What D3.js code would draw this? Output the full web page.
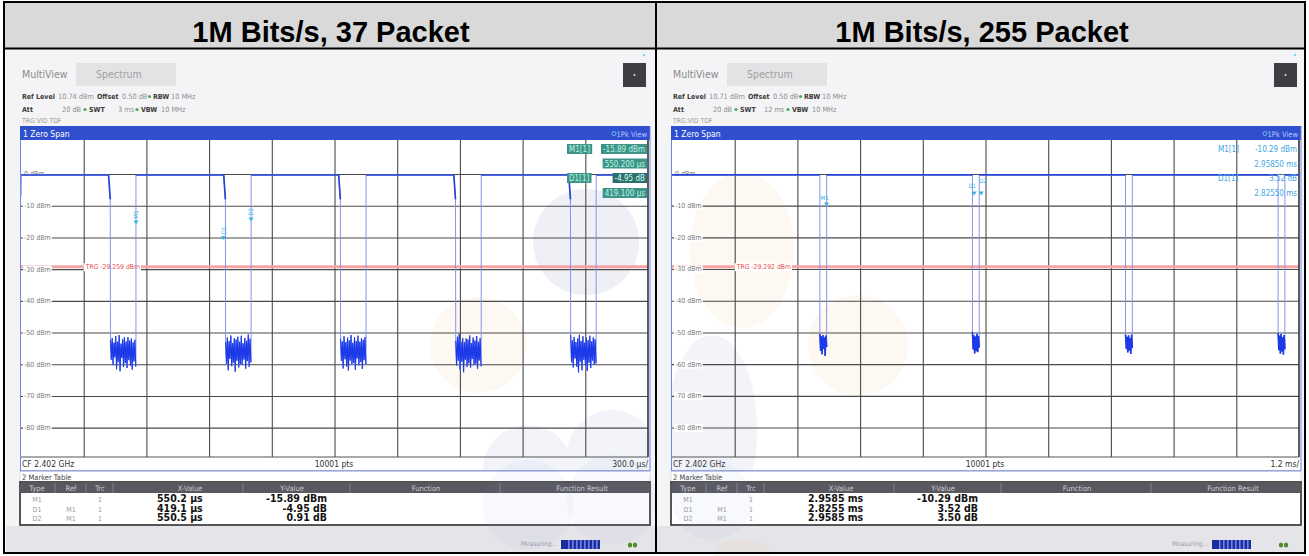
<!DOCTYPE html>
<html><head><meta charset="utf-8">
<script src="https://cdn.jsdelivr.net/npm/d3@7"></script>
<style>
body{margin:0;background:#fff;}
svg{display:block;}
</style></head><body>
<svg id="c" width="1309" height="556"></svg>
<script>
// ---------------- DATA ----------------
const panelTitles = ["1M Bits/s, 37 Packet", "1M Bits/s, 255 Packet"];
const refLevels = [10.74, 10.71];
const refLevelText = ["10.74 dBm", "10.71 dBm"];
const swtText = ["3 ms", "12 ms"];
const sweepTimes = [3000, 12];            // left in µs, right in ms
const divLabels = ["300.0 µs/", "1.2 ms/"];
const trgLevels = [-29.259, -29.292];
const trgText = ["TRG  -29.259 dBm", "TRG  -29.292 dBm"];
const yTicks = [0, -10, -20, -30, -40, -50, -60, -70, -80];
const yTickLabels = ["0 dBm", "-10 dBm", "-20 dBm", "-30 dBm", "-40 dBm", "-50 dBm", "-60 dBm", "-70 dBm", "-80 dBm"];

// trace (left, µs)
const highLevels = [-0.3, -0.3];
const startLevelL = -7.2;
const shoulderL = -8;
const fallL = [419, 970, 1520, 2071, 2621];
const riseL = [550, 1101, 1651, 2202, 2752];
const noiseL = [
  [-52.4,-58.6,-51.7,-60.3,-53.2,-57.8,-51.1,-61.6,-52.9,-59.3,-50.8,-62.2,-53.5,-58.0,-52.1,-60.9,-51.5,-59.6,-52.8,-61.2,-51.4,-58.7,-52.5,-60.5,-51.9,-61.7,-53.1,-59.1,-52.3,-60.7],
  [-53.0,-59.8,-51.6,-61.9,-52.7,-58.3,-50.9,-60.6,-53.3,-59.5,-51.8,-62.4,-52.2,-58.9,-51.3,-61.0,-52.9,-59.9,-51.0,-60.2,-53.4,-58.5,-51.7,-61.4,-52.6,-59.0,-50.6,-60.8,-52.0,-59.4],
  [-51.9,-59.0,-52.8,-61.3,-51.2,-58.4,-53.0,-60.7,-51.6,-62.0,-52.4,-58.8,-50.8,-60.1,-53.2,-59.6,-51.5,-61.8,-52.7,-58.2,-51.0,-60.4,-52.9,-59.3,-51.8,-61.5,-52.3,-58.7,-51.4,-60.0],
  [-52.6,-60.4,-51.3,-58.9,-50.5,-61.7,-52.8,-59.2,-51.7,-62.5,-53.1,-58.6,-51.9,-60.9,-52.2,-59.7,-50.9,-61.1,-53.3,-58.3,-51.6,-60.3,-52.5,-59.8,-51.1,-61.4,-52.9,-58.8,-51.8,-60.6],
  [-50.8,-59.4,-52.5,-61.0,-51.4,-58.2,-53.0,-60.8,-51.9,-62.6,-50.7,-59.1,-52.7,-61.9,-51.2,-58.6,-53.2,-60.5,-51.6,-62.1,-52.4,-59.5,-51.0,-61.2,-52.8,-58.9,-51.5,-60.2,-52.1,-59.7]
];
// trace (right, ms)
const fallR = [2.83, 5.75, 8.68, 11.60];
const riseR = [2.96, 5.88, 8.81, 11.73];
const noiseR = [
  [-50.5,-55.8,-51.2,-56.9,-50.8,-55.2,-51.6,-57.4,-51.0,-54.6],
  [-49.8,-55.4,-50.9,-56.6,-51.3,-55.9,-50.4,-56.2,-51.1,-54.8],
  [-50.6,-55.1,-51.4,-56.3,-50.9,-55.7,-51.8,-56.8,-50.7,-54.9],
  [-50.2,-55.6,-51.0,-56.7,-50.5,-56.0,-51.5,-57.0,-50.8,-55.3]
];

// markers
const markerNames = ["M1", "D1", "D2"];
const markerRefs = ["", "M1", "M1"];
const markerTrc = ["1", "1", "1"];
const markerXL = [550.2, 419.1, 550.5];     // M1 absolute, D relative to M1 (µs)
const markerYL = [-15.89, -4.95, 0.91];
const markerXR = [2.9585, 2.8255, 2.9585];  // ms
const markerYR = [-10.29, 3.52, 3.50];
const xValText = [["550.2 µs", "419.1 µs", "550.5 µs"], ["2.9585 ms", "2.8255 ms", "2.9585 ms"]];
const yValText = [["-15.89 dBm", "-4.95 dB", "0.91 dB"], ["-10.29 dBm", "3.52 dB", "3.50 dB"]];
const infoLabels = ["M1[1]", "", "D1[1]", ""];
const infoValues = [["-15.89 dBm", "550.200 µs", "-4.95 dB", "419.100 µs"], ["-10.29 dBm", "2.95850 ms", "3.52 dB", "2.82550 ms"]];
const tableHeaders = ["Type", "Ref", "Trc", "X-Value", "Y-Value", "Function", "Function Result"];

// ---------------- DRAWING ----------------
const svg = d3.select("#c");
const UI = '"DejaVu Sans Condensed","DejaVu Sans",sans-serif';
const AR = '"Liberation Sans",Arial,sans-serif';
const panelDx = [0, 651];
const P = {x0: 21, x1: 648, y0: 140, y1: 457};

function label(g, x, y, s, size, fill, anchor, weight, family) {
  return g.append("text").attr("x", x).attr("y", y).text(s)
    .attr("font-size", size).attr("fill", fill)
    .attr("text-anchor", anchor || "start")
    .attr("font-weight", weight || "normal")
    .attr("font-family", family || UI);
}
function bgLabel(g, x, y, s, size, fill, bg) {
  const t = label(g, x, y, s, size, fill);
  const b = t.node().getBBox();
  g.insert("rect", () => t.node()).attr("x", b.x - 1).attr("y", b.y).attr("width", b.width + 2)
    .attr("height", b.height).attr("fill", bg || "#fff");
  return t;
}

// header row
svg.append("rect").attr("x", 4).attr("y", 2).attr("width", 1301).attr("height", 46).attr("fill", "#d9d9d9");
[331, 982].forEach((cx, i) => label(svg, cx, 41.5, panelTitles[i], 29, "#000", "middle", "bold", AR));

function drawPanel(i) {
  const g = svg.append("g").attr("transform", `translate(${panelDx[i]},0)`);
  const sweep = sweepTimes[i];
  const x = d3.scaleLinear().domain([0, sweep]).range([P.x0, P.x1]);
  const y = d3.scaleLinear().domain([refLevels[i] - 100, refLevels[i]]).range([P.y1, P.y0]);
  const high = highLevels[i];

  // screenshot background
  g.append("rect").attr("x", 6).attr("y", 49).attr("width", 649).attr("height", 504).attr("fill", "#f4f4f6");
  // tabs
  label(g, 22, 78, "MultiView", 10.5, "#8a8a8a");
  g.append("circle").attr("cx", 81).attr("cy", 71).attr("r", 1.6).attr("fill", "#35b6e6");
  g.append("rect").attr("x", 76).attr("y", 63).attr("width", 100).attr("height", 23).attr("fill", "#e3e3e6");
  label(g, 96, 78, "Spectrum", 10.5, "#a0a0a0");
  g.append("rect").attr("x", 623).attr("y", 63).attr("width", 23).attr("height", 24).attr("fill", "#3e3e42");
  g.append("circle").attr("cx", 634.5).attr("cy", 75).attr("r", 1).attr("fill", "#ddd");
  g.append("circle").attr("cx", 644).attr("cy", 55).attr("r", 1.2).attr("fill", "#7fd3f0");

  // parameter lines
  const dark = "#3a3a3a", light = "#8c8c8c", green = "#3fae5a";
  label(g, 22, 99, "Ref Level", 7, dark, "start", "bold");
  label(g, 58, 99, refLevelText[i], 7.3, light);
  label(g, 97, 99, "Offset", 7, dark, "start", "bold");
  label(g, 122, 99, "0.50 dB", 7.3, light);
  g.append("circle").attr("cx", 149.5).attr("cy", 96.5).attr("r", 1.6).attr("fill", green);
  label(g, 153, 99, "RBW", 7, dark, "start", "bold");
  label(g, 171, 99, "10 MHz", 7.3, light);
  label(g, 22, 112, "Att", 7, dark, "start", "bold");
  label(g, 62, 112, "20 dB", 7.3, light);
  g.append("circle").attr("cx", 85).attr("cy", 109.5).attr("r", 1.6).attr("fill", green);
  label(g, 89, 112, "SWT", 7, dark, "start", "bold");
  label(g, i === 0 ? 118 : 113, 112, swtText[i], 7.3, light);
  g.append("circle").attr("cx", 137).attr("cy", 109.5).attr("r", 1.6).attr("fill", green);
  label(g, 141, 112, "VBW", 7, dark, "start", "bold");
  label(g, 161, 112, "10 MHz", 7.3, light);
  label(g, 22, 122.5, "TRG:VID TDF", 6.8, "#9a9a9a");

  // window frame + blue title bar
  g.append("rect").attr("x", 20).attr("y", 126).attr("width", 630).attr("height", 345).attr("fill", "#fff");
  g.append("rect").attr("x", 20).attr("y", 126).attr("width", 630).attr("height", 14).attr("fill", "#2f4fce");
  label(g, 23, 136.5, "1 Zero Span", 8.5, "#fff");
  label(g, 647, 136.5, "1Pk View", 7.5, "#b9c9ff", "end");
  g.append("circle").attr("cx", 614).attr("cy", 133.5).attr("r", 2).attr("fill", "none").attr("stroke", "#7fd0f5").attr("stroke-width", 0.8);

  // watermark (behind grid)
  const wm = g.append("g");
  if (i === 0) {
    wm.append("circle").attr("cx", 586).attr("cy", 242).attr("r", 53).attr("fill", "#eef0f6");
    wm.append("circle").attr("cx", 478).attr("cy", 345).attr("r", 48).attr("fill", "#fdf8f1");
    wm.append("circle").attr("cx", 528).attr("cy", 470).attr("r", 45).attr("fill", "#f2f4f9");
    wm.append("circle").attr("cx", 612).attr("cy", 455).attr("r", 45).attr("fill", "#f2f4f9");
  } else {
    wm.append("ellipse").attr("cx", 742 - 651).attr("cy", 250).attr("rx", 52).attr("ry", 78).attr("fill", "#fdf8f1");
    wm.append("circle").attr("cx", 858 - 651).attr("cy", 345).attr("r", 50).attr("fill", "#fdf8f1");
    wm.append("ellipse").attr("cx", 712 - 651).attr("cy", 430).attr("rx", 45).attr("ry", 95).attr("fill", "#f3f4f9");
  }

  // grid via axes
  const gx = g.append("g").attr("transform", `translate(0,${P.y1})`)
    .call(d3.axisBottom(x).tickValues(d3.range(1, 10).map(k => k * sweep / 10)).tickSize(-(P.y1 - P.y0)).tickFormat(""));
  const gy = g.append("g").attr("transform", `translate(${P.x0},0)`)
    .call(d3.axisLeft(y).tickValues(yTicks).tickSize(-(P.x1 - P.x0)).tickFormat(""));
  [gx, gy].forEach(a => { a.select(".domain").remove(); a.selectAll("line").attr("stroke", "#4a4a4a").attr("stroke-width", 1.1); });

  // trigger line
  g.append("line").attr("x1", P.x0).attr("x2", P.x1).attr("y1", y(trgLevels[i])).attr("y2", y(trgLevels[i]))
    .attr("stroke", "#f3a4a4").attr("stroke-width", 3);
  bgLabel(g, x(sweep / 10) + 2, y(trgLevels[i]) + 2.4, trgText[i], 6.8, "#e2504f");

  // y labels
  yTicks.forEach((v, k) => bgLabel(g, 24, y(v) + 2.4, yTickLabels[k], 7, "#7a7a7a"));

  // plot borders
  g.append("line").attr("x1", P.x0 - 0.5).attr("x2", P.x0 - 0.5).attr("y1", P.y0).attr("y2", 471).attr("stroke", "#6f86e0");
  g.append("line").attr("x1", P.x1).attr("x2", P.x1).attr("y1", P.y0).attr("y2", P.y1).attr("stroke", "#333").attr("stroke-width", 1.6);
  g.append("line").attr("x1", P.x0).attr("x2", P.x1).attr("y1", P.y1).attr("y2", P.y1).attr("stroke", "#555").attr("stroke-width", 1);
  g.append("line").attr("x1", 650).attr("x2", 650).attr("y1", 126).attr("y2", 471).attr("stroke", "#6f86e0");

  // trace
  const fall = i === 0 ? fallL : fallR, rise = i === 0 ? riseL : riseR, noise = i === 0 ? noiseL : noiseR;
  const dt = i === 0 ? 8 : 0;
  const pts = [];
  const highSegs = [];
  const noiseSegs = [];
  if (i === 0) { pts.push([0, startLevelL], [2, high]); } else { pts.push([0, high]); }
  let segStart = i === 0 ? 2 : 0;
  fall.forEach((f, k) => {
    const n = noise[k];
    const seg = [[segStart, high], [f, high]];
    if (i === 0) seg.push([f + dt, shoulderL]);
    highSegs.push(seg);
    pts.push([f, high]);
    if (i === 0) pts.push([f + dt, shoulderL]);
    const t0 = f + (i === 0 ? dt + 1 : 0), t1 = rise[k] - (i === 0 ? 1 : 0);
    const ns = n.map((v, j) => [t0 + j * (t1 - t0) / (n.length - 1), v]);
    noiseSegs.push(ns);
    ns.forEach(p => pts.push(p));
    pts.push([rise[k], n[n.length - 1]], [rise[k], high]);
    segStart = rise[k];
  });
  pts.push([sweep, high]);
  highSegs.push([[segStart, high], [sweep, high]]);

  const line = d3.line().x(d => x(d[0])).y(d => y(d[1]));
  g.append("path").attr("d", line(pts)).attr("fill", "none").attr("stroke", "#8494ee").attr("stroke-width", 1);
  highSegs.forEach(s => g.append("path").attr("d", line(s)).attr("fill", "none").attr("stroke", "#2846d6").attr("stroke-width", 1.7));
  noiseSegs.forEach(s => g.append("path").attr("d", line(s)).attr("fill", "none").attr("stroke", "#1d3ae8").attr("stroke-width", i === 0 ? 1.1 : 1.6));

  // markers
  const mx = i === 0 ? markerXL : markerXR, my = i === 0 ? markerYL : markerYR;
  const abs = [[mx[0], my[0]], [mx[0] + mx[1], my[0] + my[1]], [mx[0] + mx[2], my[0] + my[2]]];
  const mcol = "#38b4e4";
  abs.forEach((p, k) => {
    const px = x(p[0]), py = y(p[1]);
    g.append("path").attr("d", `M${px - 2.5},${py - 4}L${px + 2.5},${py - 4}L${px},${py}Z`).attr("fill", mcol);
    if (i === 0) {
      label(g, px + 2, py - 6, markerNames[k], 6, mcol).attr("transform", `rotate(-90,${px + 2},${py - 6})`);
    } else {
      label(g, px + (k === 2 ? 2 : -2), py - 7 - (k === 2 ? 5 : 0), markerNames[k], 6, mcol, "middle");
    }
  });

  // marker info (top right)
  const rows = [152, 166.5, 181, 196];
  infoValues[i].forEach((s, k) => {
    if (i === 0) {
      if (infoLabels[k]) {
        const t = label(g, 569, rows[k], infoLabels[k], 8, "#b6f4e6");
        const b = t.node().getBBox();
        g.insert("rect", () => t.node()).attr("x", b.x - 2).attr("y", rows[k] - 8).attr("width", b.width + 4).attr("height", 10).attr("fill", "#3f9487");
      }
      const t = label(g, 645, rows[k], s, 8, k === 2 ? "#d8fff5" : "#b6f4e6", "end");
      const b = t.node().getBBox();
      g.insert("rect", () => t.node()).attr("x", b.x - 2).attr("y", rows[k] - 8).attr("width", b.width + 4).attr("height", 10).attr("fill", k === 2 ? "#2d6f6c" : "#3f9487");
    } else {
      if (infoLabels[k]) label(g, 567, rows[k], infoLabels[k], 8, "#3ea6e6");
      label(g, 646, rows[k], s, 8, "#3ea6e6", "end");
    }
  });

  // CF row
  label(g, 22, 467, "CF 2.402 GHz", 8.5, "#333");
  label(g, 334, 467, "10001 pts", 8.5, "#333", "middle");
  label(g, 648, 467, divLabels[i], 8.5, "#333", "end");
  g.append("line").attr("x1", 20).attr("x2", 650).attr("y1", 471).attr("y2", 471).attr("stroke", "#6f86e0").attr("stroke-width", 1.3);

  // marker table
  g.append("rect").attr("x", 20).attr("y", 471.5).attr("width", 630).attr("height", 10).attr("fill", "#fff").attr("stroke", "#c8c8d0").attr("stroke-width", 0.6);
  label(g, 22, 479.5, "2 Marker Table", 7.5, "#444");
  g.append("rect").attr("x", 20).attr("y", 482).attr("width", 630).attr("height", 43).attr("fill", "#fff").attr("stroke", "#2e2e2e").attr("stroke-width", 1.6);
  g.append("rect").attr("x", 21).attr("y", 483).attr("width", 628).attr("height", 10).attr("fill", "#58585e");
  const colC = [37, 71, 100, 190, 292, 426, 582];
  const seps = [55, 86, 113, 243, 350, 500];
  seps.forEach(s => g.append("line").attr("x1", s).attr("x2", s).attr("y1", 483).attr("y2", 493).attr("stroke", "#8a8a90").attr("stroke-width", 0.8));
  tableHeaders.forEach((h, k) => label(g, colC[k], 490.5, h, 7.5, "#c9c9cf", "middle"));
  const rb = [502, 511.5, 521];
  markerNames.forEach((m, k) => {
    label(g, 37, rb[k], m, 7, "#9a9a9a", "middle");
    label(g, 71, rb[k], markerRefs[k], 7, "#9a9a9a", "middle");
    label(g, 100, rb[k], markerTrc[k], 7, "#9a9a9a", "middle");
    label(g, 157, rb[k], xValText[i][k], 10.5, "#111", "start", "bold");
    label(g, 327, rb[k], yValText[i][k], 10.5, "#111", "end", "bold");
  });

  // status bar
  g.append("rect").attr("x", 6).attr("y", 526).attr("width", 649).attr("height", 27).attr("fill", "#e5e5e9");
  label(g, 557, 546, "Measuring...", 6.5, "#9a9aa6", "end");
  g.append("rect").attr("x", 561).attr("y", 540).attr("width", 39).attr("height", 9).attr("fill", "#1b2c9e");
  d3.range(8).forEach(k => g.append("rect").attr("x", 568 + k * 4).attr("y", 540).attr("width", 1.6).attr("height", 9).attr("fill", "#6c82e4"));
  g.append("ellipse").attr("cx", 630).attr("cy", 545).attr("rx", 2.2).attr("ry", 2.6).attr("fill", "#4f8a2a");
  g.append("ellipse").attr("cx", 635).attr("cy", 545).attr("rx", 2.2).attr("ry", 2.6).attr("fill", "#4f8a2a");

  // faint watermark tint over table/status area
  if (i === 0) {
    g.append("circle").attr("cx", 528).attr("cy", 505).attr("r", 45).attr("fill", "#8a9ad0").attr("opacity", 0.06);
    g.append("circle").attr("cx", 612).attr("cy", 500).attr("r", 45).attr("fill", "#8a9ad0").attr("opacity", 0.06);
  } else {
    g.append("ellipse").attr("cx", 742 - 651).attr("cy", 553).attr("rx", 28).attr("ry", 14).attr("fill", "#f0b060").attr("opacity", 0.08);
    g.append("ellipse").attr("cx", 712 - 651).attr("cy", 500).attr("rx", 40).attr("ry", 40).attr("fill", "#8a9ad0").attr("opacity", 0.06);
  }
}
drawPanel(0);
drawPanel(1);

// table borders
svg.append("rect").attr("x", 4).attr("y", 2).attr("width", 1301).attr("height", 551).attr("fill", "none").attr("stroke", "#000").attr("stroke-width", 2);
svg.append("line").attr("x1", 4).attr("x2", 1305).attr("y1", 48.5).attr("y2", 48.5).attr("stroke", "#000").attr("stroke-width", 2);
svg.append("line").attr("x1", 656).attr("x2", 656).attr("y1", 2).attr("y2", 553).attr("stroke", "#000").attr("stroke-width", 2);
</script>
</body></html>
